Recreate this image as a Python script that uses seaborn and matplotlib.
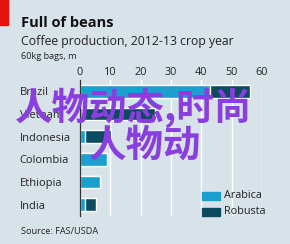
import pandas as pd
import matplotlib.pyplot as plt
import matplotlib.patches as mpatches
import seaborn as sns

# data (60kg bags, m)
countries = ['Brazil', 'Vietnam', 'Indonesia', 'Colombia', 'Ethiopia', 'India']
arabica = [43.0, 0.6, 1.6, 9.0, 6.6, 1.8]
robusta = [13.0, 24.2, 8.7, 0.0, 0.0, 3.4]
ticks = [0, 10, 20, 30, 40, 50, 60]

BG = '#d8e2e9'
C_ARA = '#1a9fcf'
C_ROB = '#0b4a5f'

df = pd.DataFrame({'country': countries, 'arabica': arabica, 'robusta': robusta})
df['total'] = df['arabica'] + df['robusta']

sns.set_theme(style='white')
plt.rcParams['font.family'] = ['Open Sans', 'Noto Sans CJK SC', 'DejaVu Sans']

W, H = 290, 244
fig = plt.figure(figsize=(W / 100, H / 100), dpi=100, facecolor=BG)
ax = fig.add_axes([80 / W, 1 - 216 / H, 182 / W, 136 / H])
ax.set_facecolor(BG)

sns.barplot(data=df, y='country', x='total', color=C_ROB, width=0.55,
            orient='h', ax=ax, saturation=1)
sns.barplot(data=df, y='country', x='arabica', color=C_ARA, width=0.55,
            orient='h', ax=ax, saturation=1)

ax.set_xlim(0, 60)
ax.set_xticks(ticks)
ax.xaxis.tick_top()
ax.tick_params(axis='x', length=0, pad=1.5, labelsize=7.8, labelcolor='#222222')
ax.tick_params(axis='y', length=0, pad=1, labelsize=8, labelcolor='#222222')
for lab in ax.get_yticklabels():
    lab.set_horizontalalignment('left')
    lab.set_x(-59 / 182)
ax.set_xlabel('')
ax.set_ylabel('')
ax.grid(axis='x', color='white', linewidth=1)
ax.set_axisbelow(True)
for s in ['top', 'right', 'bottom']:
    ax.spines[s].set_visible(False)
ax.spines['left'].set_color('#333333')
ax.spines['left'].set_linewidth(0.9)

# titles
fig.patches.append(mpatches.Rectangle((0, 1 - 25 / H), 8 / W, 25 / H,
                                      transform=fig.transFigure, color='#e3120b'))
fig.text(21 / W, 1 - 27 / H, 'Full of beans', fontsize=10.5, fontweight='bold',
         color='#111111', va='baseline')
fig.text(21 / W, 1 - 45 / H, 'Coffee production, 2012-13 crop year', fontsize=8.8,
         color='#222222', va='baseline')
fig.text(21 / W, 1 - 59 / H, '60kg bags, m', fontsize=6.6, color='#222222', va='baseline')
fig.text(21 / W, 1 - 234 / H, 'Source: FAS/USDA', fontsize=6.6, color='#222222', va='baseline')

# legend
for i, (name, c) in enumerate([('Arabica', C_ARA), ('Robusta', C_ROB)]):
    y = 1 - (200 + i * 16) / H
    fig.patches.append(mpatches.Rectangle((202 / W, y), 18 / W, 8 / H,
                                          transform=fig.transFigure, color=c))
    fig.text(224 / W, y + 4 / H, name, fontsize=7.8, color='#222222', va='center')

# watermark overlay
fig.text(134 / W, 1 - 108 / H, '人物动态,时尚', fontsize=27, fontweight='bold',
         color='#8a3ee0', ha='center', va='center',
         family=['Noto Sans CJK SC', 'DejaVu Sans'])
fig.text(145 / W, 1 - 145 / H, '人物动', fontsize=27, fontweight='bold',
         color='#8a3ee0', ha='center', va='center',
         family=['Noto Sans CJK SC', 'DejaVu Sans'])

fig.savefig('out.png', dpi=100, facecolor=BG)
